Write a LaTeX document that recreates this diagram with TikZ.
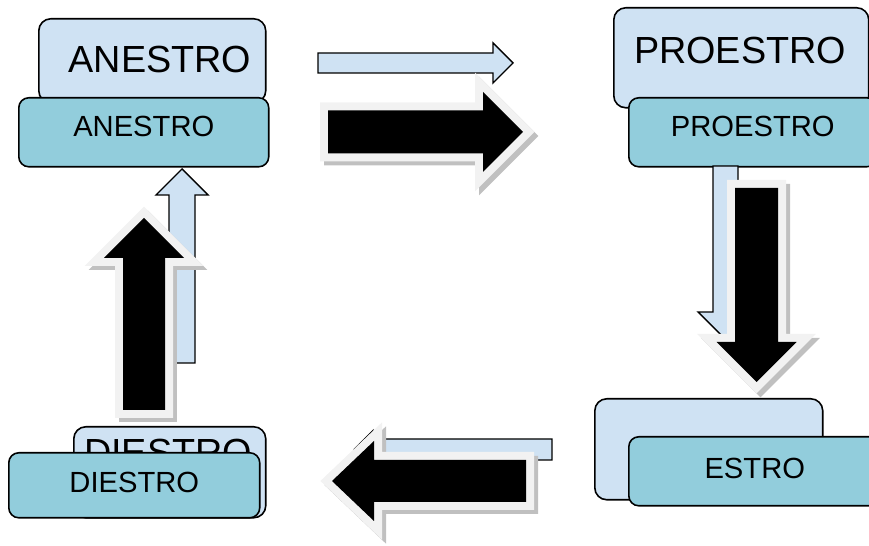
\documentclass[tikz,border=0pt]{standalone}
\usepackage{fontspec}
\setmainfont{Liberation Sans}
\usepackage{tikz}
\definecolor{paleblue}{HTML}{CFE2F3}
\definecolor{tealbox}{HTML}{92CDDC}
\definecolor{rimgray}{HTML}{F2F2F2}
\definecolor{shadegray}{HTML}{C0C0C0}

\begin{document}
\begin{tikzpicture}[x=0.02cm,y=-0.02cm,
		backbox/.style={draw,line width=0.9pt,fill=paleblue,rounded corners=0.24cm,anchor=north west,inner sep=0pt},
		frontbox/.style={draw,line width=0.9pt,fill=tealbox,rounded corners=0.2cm,anchor=north west,inner sep=0pt,
			font=\fontsize{16.6}{20}\selectfont},
		bigtext/.style={inner sep=0pt,font=\fontsize{21.5}{26}\selectfont},
		thinarrow/.style={draw,line width=0.8pt,fill=paleblue},
		fatarrow/.style={fill=black,
			preaction={draw=shadegray,line width=0.32cm,transform canvas={shift={(0.08cm,-0.08cm)}}},
			preaction={draw=rimgray,line width=0.32cm}}]
		\useasboundingbox (0,0) rectangle (869,546);
		\clip (0,0) rectangle (869,546);
%		\draw[help lines,step=50] (0,0) grid (869,546);
		\path (38,18) coordinate (anestro_back);
		\path (613,7) coordinate (proestro_back);
		\path (594,398) coordinate (estro_back);
		\path (73,426) coordinate (diestro_back);
		\path (18,97) coordinate (anestro_front);
		\path (628,97) coordinate (proestro_front);
		\path (628,436) coordinate (estro_front);
		\path (8,452) coordinate (diestro_front);

		\node[backbox,minimum width=4.54cm,minimum height=1.68cm] (anestroB) at (anestro_back) {};
		\node[bigtext] (anestroBtext) at (160,60) {ANESTRO};
		\node[backbox,minimum width=5.10cm,minimum height=2.00cm] (proestroB) at (proestro_back) {};
		\node[bigtext] (proestroBtext) at (740,51) {PROESTRO};
		\node[backbox,minimum width=4.56cm,minimum height=2.02cm] (estroB) at (estro_back) {};
		\node[backbox,minimum width=3.84cm,minimum height=1.82cm] (diestroB) at (diestro_back) {};
		\node[bigtext] (diestroBtext) at (168,452) {DIESTRO};

		\node[frontbox,minimum width=5.00cm,minimum height=1.38cm,text depth=0.22cm] (anestroF) at (anestro_front) {ANESTRO};
		\node[frontbox,minimum width=4.96cm,minimum height=1.38cm,text depth=0.22cm] (proestroF) at (proestro_front) {PROESTRO};
		\node[frontbox,minimum width=5.04cm,minimum height=1.38cm,text depth=0.1cm] (estroF) at (estro_front) {ESTRO};
		\node[frontbox,minimum width=5.02cm,minimum height=1.30cm,text depth=0.1cm] (diestroF) at (diestro_front) {DIESTRO};

		\draw[thinarrow] (318,53) -- (493,53) -- (493,43) -- (513,63) -- (493,83) -- (493,73) -- (318,73) -- cycle;
		\draw[thinarrow] (713,166) -- (738,166) -- (738,312) -- (753,312) -- (725.5,339.5) -- (698,312) -- (713,312) -- cycle;
		\draw[thinarrow] (552,439) -- (373,439) -- (373,430.5) -- (354,449.5) -- (373,468.5) -- (373,460) -- (552,460) -- cycle;
		\draw[thinarrow] (169,363) -- (169,195) -- (156,195) -- (182,169) -- (208,195) -- (195,195) -- (195,363) -- cycle;

		\path[fatarrow] (328,110.5) -- (483,110.5) -- (483,92) -- (523,132) -- (483,172) -- (483,153.5) -- (328,153.5) -- cycle;
		\path[fatarrow] (735,188) -- (778,188) -- (778,342) -- (796.5,342) -- (756.5,382) -- (716.5,342) -- (735,342) -- cycle;
		\path[fatarrow] (526,460) -- (374,460) -- (374,441) -- (332,481) -- (374,521) -- (374,502) -- (526,502) -- cycle;
		\path[fatarrow] (123,410) -- (123,258) -- (104,258) -- (144,218) -- (184,258) -- (165,258) -- (165,410) -- cycle;
	\end{tikzpicture}
\end{document}
